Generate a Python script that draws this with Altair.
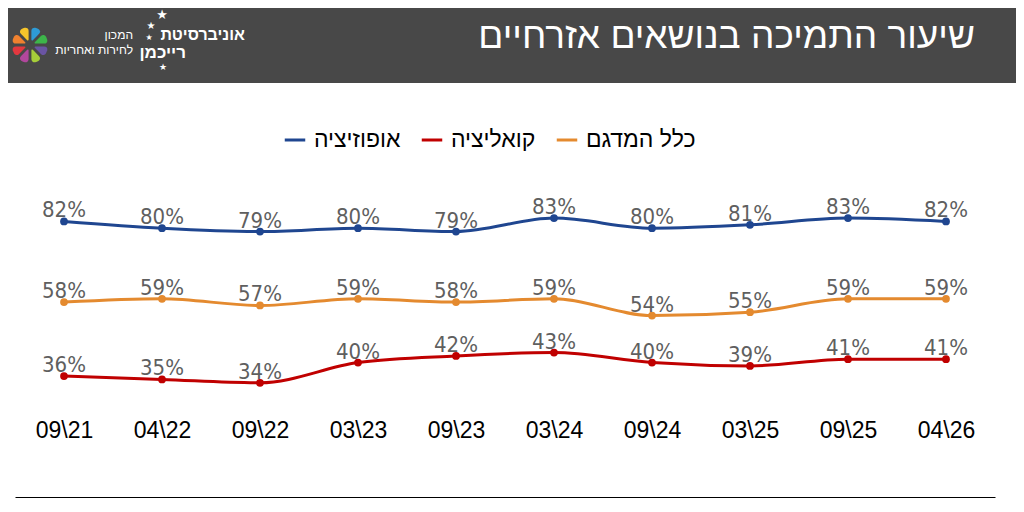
import altair as alt
import pandas as pd

periods = ["09\\21", "04\\22", "09\\22", "03\\23", "09\\23", "03\\24", "09\\24", "03\\25", "09\\25", "04\\26"]
opposition = [82, 80, 79, 80, 79, 83, 80, 81, 83, 82]
coalition = [36, 35, 34, 40, 42, 43, 40, 39, 41, 41]
all_sample = [58, 59, 57, 59, 58, 59, 54, 55, 59, 59]

series_names = ["אופוזיציה", "קואליציה", "כלל המדגם"]
series_colors = ["#1F4690", "#C00000", "#E48A2F"]

title_text = "שיעור התמיכה בנושאים אזרחיים"

rows = []
for name, vals in zip(series_names, [opposition, coalition, all_sample]):
    for p, v in zip(periods, vals):
        rows.append({"period": p, "series": name, "value": v, "label": f"{v}%"})
df = pd.DataFrame(rows)

petal_colors = ["#2E9BD6", "#3DB54A", "#A6CE39", "#F7C52B", "#F0812F", "#E2383F", "#B1479C", "#6A54A3"]
petals = pd.DataFrame({"c": petal_colors, "v": [1] * len(petal_colors)})

x_enc = alt.X("period:N", sort=periods, scale=alt.Scale(type="point", padding=0.5),
              axis=alt.Axis(title=None, labelAngle=0, labelPadding=-78, ticks=False,
                            labelFontSize=23, labelColor="#000000", labelFont="Liberation Sans",
                            domainColor="#000000", domainWidth=1, grid=False))
y_enc = alt.Y("value:Q", scale=alt.Scale(domain=[0, 100]), axis=None)
color_enc = alt.Color("series:N", sort=series_names,
                      scale=alt.Scale(domain=series_names, range=series_colors),
                      legend=alt.Legend(title=None, orient="none", legendX=268, legendY=-33,
                                        direction="horizontal", symbolType="stroke",
                                        symbolStrokeWidth=3, symbolSize=420,
                                        labelFontSize=23, labelFont="Liberation Sans",
                                        labelColor="#000000", labelOffset=7, columnPadding=14))

base = alt.Chart(df)
lines = base.mark_line(strokeWidth=3, interpolate="monotone").encode(x=x_enc, y=y_enc, color=color_enc)
points = base.mark_circle(size=60, opacity=1).encode(x=x_enc, y=y_enc, color=alt.Color("series:N", sort=series_names, legend=None))
labels = base.mark_text(baseline="alphabetic", dy=-4, fontSize=22, color="#5F5F5F",
                        font="Liberation Sans Narrow, DejaVu Sans Condensed, sans-serif").encode(
    x=x_enc, y=y_enc, text="label:N")

one = pd.DataFrame({"a": [0]})
header = alt.Chart(one).mark_rect(color="#484848").encode(
    x=alt.value(-7), x2=alt.value(1001), y=alt.value(-153), y2=alt.value(-78))
title = alt.Chart(one).mark_text(align="right", baseline="middle", fontSize=37, color="#FFFFFF",
                                 font="Liberation Sans").encode(
    x=alt.value(960), y=alt.value(-124), text=alt.value(title_text))
uni1 = alt.Chart(one).mark_text(align="right", baseline="middle", fontSize=16, fontWeight="bold",
                                color="#FFFFFF", font="Liberation Sans").encode(
    x=alt.value(230), y=alt.value(-126), text=alt.value("אוניברסיטת"))
uni2 = alt.Chart(one).mark_text(align="right", baseline="middle", fontSize=17, fontWeight="bold",
                                color="#FFFFFF", font="Liberation Sans").encode(
    x=alt.value(171), y=alt.value(-108), text=alt.value("רייכמן"))
inst1 = alt.Chart(one).mark_text(align="right", baseline="middle", fontSize=12,
                                 color="#FFFFFF", font="Liberation Sans").encode(
    x=alt.value(118), y=alt.value(-126), text=alt.value("המכון"))
inst2 = alt.Chart(one).mark_text(align="right", baseline="middle", fontSize=12,
                                 color="#FFFFFF", font="Liberation Sans").encode(
    x=alt.value(118), y=alt.value(-111), text=alt.value("לחירות ואחריות"))
stars = []
for (sx, sy, fs) in [(147, -146, 13), (136, -135, 10), (134, -123, 8), (148, -94, 9)]:
    stars.append(alt.Chart(one).mark_text(fontSize=fs, color="#FFFFFF", font="DejaVu Sans").encode(
        x=alt.value(sx), y=alt.value(sy), text=alt.value("★")))
flower = alt.Chart(petals).mark_arc(outerRadius=18, innerRadius=5, padAngle=0.15, cornerRadius=3).encode(
    theta=alt.Theta("v:Q", stack=True),
    fill=alt.Fill("c:N", scale=None, legend=None),
    order=alt.Order("c:N", sort="ascending"),
    x=alt.value(15), y=alt.value(-116))

chart = alt.layer(header, title, uni1, uni2, inst1, inst2, *stars, flower, lines, points, labels).resolve_scale(
    theta="independent"
).properties(
    width=980, height=336,
    autosize=alt.AutoSizeParams(type="none"),
    padding={"left": 7, "top": 153, "right": 21, "bottom": 3},
).configure_view(stroke=None)

chart.save("out.html", embed_options={"renderer": "svg", "actions": False})
